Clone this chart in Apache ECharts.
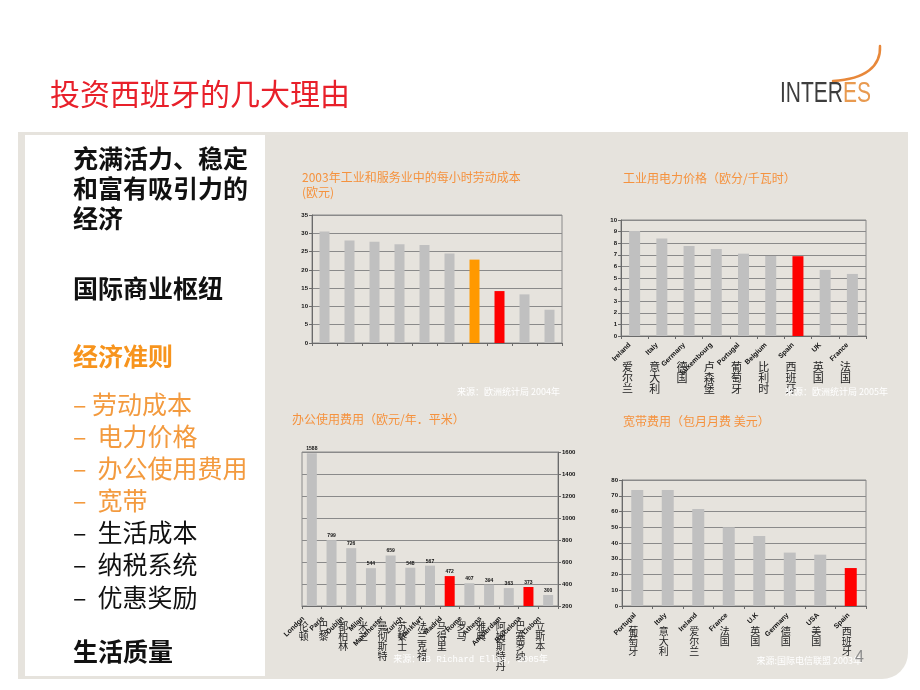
<!DOCTYPE html>
<html>
<head>
<meta charset="utf-8">
<title>投资西班牙的几大理由</title>
<script src="https://cdn.jsdelivr.net/npm/echarts@6/dist/echarts.min.js"></script>
<style>
  html, body { margin: 0; padding: 0; background: #fff; }
  #chart { width: 920px; height: 690px; }
</style>
</head>
<body>
<div id="chart"></div>
<script>
// 2003 labour cost per hour (EUR) - no category names shown in the slide
const laborCats = ['1', '2', '3', '4', '5', '6', '7', '8', '9', '10']
const laborCost = [30.5, 28.0, 27.7, 27.0, 26.8, 24.5, 22.8, 14.2, 13.3, 9.1]

// industrial electricity price (euro cent / kWh)
const elecEn = ['Ireland', 'Italy', 'Germany', 'Luxembourg', 'Portugal', 'Belgium', 'Spain', 'UK', 'France']
const elecZh = ['爱尔兰', '意大利', '德国', '卢森堡', '葡萄牙', '比利时', '西班牙', '英国', '法国']
const elecPrice = [9.05, 8.4, 7.75, 7.5, 7.1, 6.9, 6.88, 5.7, 5.35]

// office rent (EUR / year / m2)
const officeEn = ['London', 'Paris', 'Dublin', 'Milan', 'Manchester', 'Zurich', 'Frankfurt', 'Madrid', 'Rome', 'Athens', 'Amsterdam', 'Barcelona', 'Lisbon']
const officeZh = ['伦顿', '巴黎', '都柏林', '米兰', '曼彻斯特', '苏黎士', '法兰克福', '马得里', '罗马', '雅典', '阿姆斯特丹', '巴塞罗纳', '立斯本']
const officeRent = [1588, 799, 726, 544, 659, 548, 567, 472, 407, 394, 363, 373, 300]

// broadband monthly fee (USD)
const bbEn = ['Portugal', 'Italy', 'Ireland', 'France', 'U.K', 'Germany', 'USA', 'Spain']
const bbZh = ['葡萄牙', '意大利', '爱尔兰', '法国', '英国', '德国', '美国', '西班牙']
const bbFee = [73.6, 73.6, 61.6, 50.0, 44.4, 33.9, 32.6, 24.1]

// highlighted bars
const laborOrange = [6]
const laborRed = [7]
const elecRed = [6]
const officeRed = [7, 11]
const bbRed = [7]

const GREY = '#c0c0c0'
const RED = '#ff0000'
const ORANGE = '#ff9900'
const LINE = '#8a8a8a'
const TITLE = '#f5923e'
const CJK = '"Noto Sans CJK SC", sans-serif'
const LATIN = '"Liberation Sans", Arial, sans-serif'

function paint(values, red, orange) {
  return values.map((v, i) => {
    let c = GREY
    if (red.indexOf(i) >= 0) c = RED
    if (orange && orange.indexOf(i) >= 0) c = ORANGE
    return { value: v, itemStyle: { color: c } }
  })
}

function grid(left, top, width, height) {
  return { left, top, width, height, show: true, borderColor: LINE, borderWidth: 1, backgroundColor: 'transparent', outerBoundsMode: 'none' }
}

function valueAxis(gridIndex, min, max, interval, position) {
  return {
    type: 'value', gridIndex, min, max, interval, position: position || 'left',
    axisLine: { show: true, lineStyle: { color: '#6a6a6a' } },
    axisTick: { show: true, length: 3, lineStyle: { color: '#6a6a6a' } },
    splitLine: { show: true, lineStyle: { color: LINE, width: 1 } },
    axisLabel: { fontSize: 6, fontWeight: 'bold', color: '#111', margin: 4, fontFamily: LATIN, formatter: v => String(v) }
  }
}

function enAxis(gridIndex, data, showLabel, margin, pad) {
  return {
    type: 'category', gridIndex, data, position: 'bottom',
    axisLine: { show: true, lineStyle: { color: '#6a6a6a' } },
    axisTick: { show: true, length: 3, lineStyle: { color: '#6a6a6a' } },
    splitLine: { show: false },
    axisLabel: {
      show: showLabel, interval: 0, rotate: 45, margin: margin || 4,
      padding: [0, pad || 0, 0, 0],
      fontSize: 7, fontWeight: 'bold', color: '#111', fontFamily: LATIN
    }
  }
}

function zhAxis(gridIndex, data, margin, pad, fontSize, lineHeight) {
  return {
    type: 'category', gridIndex, data, position: 'bottom',
    axisLine: { show: false }, axisTick: { show: false }, splitLine: { show: false },
    axisLabel: {
      interval: 0, margin, fontSize, lineHeight, color: '#222', fontFamily: CJK,
      padding: [0, pad, 0, 0],
      formatter: v => v.split('').join('\n')
    }
  }
}

function chartTitle(text, left, top) {
  return {
    text, left, top, padding: 0,
    textStyle: { color: TITLE, fontSize: 12, fontWeight: 'normal', fontFamily: CJK, lineHeight: 15 }
  }
}

function txt(text, x, y, size, color, weight, family, align) {
  return {
    type: 'text', x, y, z: 100,
    style: {
      text, fill: color, font: (weight || 'normal') + ' ' + size + 'px ' + (family || CJK),
      align: align || 'left', verticalAlign: 'middle',
      textAlign: align || 'left', textVerticalAlign: 'middle'
    }
  }
}

const leftLines = [
  ['充满活力、稳定', 158, '#111', 'bold'],
  ['和富有吸引力的', 188, '#111', 'bold'],
  ['经济', 218, '#111', 'bold'],
  ['国际商业枢纽', 288, '#111', 'bold'],
  ['经济准则', 356, '#f7941d', 'bold'],
  ['– 劳动成本', 404, '#f39a3e', 'normal'],
  ['–  电力价格', 436, '#f39a3e', 'normal'],
  ['–  办公使用费用', 468, '#f39a3e', 'normal'],
  ['–  宽带', 500, '#f39a3e', 'normal'],
  ['–  生活成本', 532, '#111', 'normal'],
  ['–  纳税系统', 564, '#111', 'normal'],
  ['–  优惠奖励', 597, '#111', 'normal'],
  ['生活质量', 651, '#111', 'bold']
]

const chart = echarts.init(document.getElementById('chart'), null, { renderer: 'canvas' })

chart.setOption({
  backgroundColor: '#ffffff',
  animation: false,
  title: [
    chartTitle('2003年工业和服务业中的每小时劳动成本\n(欧元)', 302, 170),
    chartTitle('工业用电力价格（欧分/千瓦时）', 623, 171),
    chartTitle('办公使用费用（欧元/年．平米）', 292, 412),
    chartTitle('宽带费用（包月月费 美元）', 623, 414)
  ],
  grid: [
    grid(312, 215, 250, 128),
    grid(621, 220, 245, 116),
    grid(302, 452, 256, 154),
    grid(622, 480, 244, 126)
  ],
  xAxis: [
    enAxis(0, laborCats, false),
    enAxis(1, elecEn, true, 3, 7),
    zhAxis(1, elecZh, 25, 14, 11, 11),
    enAxis(2, officeEn, true, 3, 12),
    zhAxis(2, officeZh, 15, 16, 10, 10),
    enAxis(3, bbEn, true, 6, 3),
    zhAxis(3, bbZh, 20, 8, 10, 10)
  ],
  yAxis: [
    valueAxis(0, 0, 35, 5),
    valueAxis(1, 0, 10, 1),
    valueAxis(2, 200, 1600, 200, 'right'),
    valueAxis(3, 0, 80, 10)
  ],
  series: [
    { type: 'bar', xAxisIndex: 0, yAxisIndex: 0, barWidth: 10, data: paint(laborCost, laborRed, laborOrange) },
    { type: 'bar', xAxisIndex: 1, yAxisIndex: 1, barWidth: 11, data: paint(elecPrice, elecRed) },
    {
      type: 'bar', xAxisIndex: 3, yAxisIndex: 2, barWidth: 10, data: paint(officeRent, officeRed),
      label: { show: true, position: 'top', distance: 2, fontSize: 5, fontWeight: 'bold', color: '#111', fontFamily: LATIN }
    },
    { type: 'bar', xAxisIndex: 5, yAxisIndex: 3, barWidth: 12, data: paint(bbFee, bbRed) }
  ],
  graphic: [
    { type: 'rect', z: -10, shape: { x: 18, y: 132, width: 890, height: 547, r: [0, 0, 26, 0] }, style: { fill: '#e6e3dd' } },
    { type: 'rect', z: -9, shape: { x: 25, y: 135, width: 240, height: 541 }, style: { fill: '#ffffff' } },
    txt('投资西班牙的几大理由', 50, 94, 30, '#e8202a', 'normal'),
    {
      type: 'bezierCurve', z: 100,
      shape: { x1: 880, y1: 46, cpx1: 881, cpy1: 66, cpx2: 866, cpy2: 79, x2: 833, y2: 81 },
      style: { stroke: '#e8883a', lineWidth: 2.5, fill: null, lineCap: 'round' }
    },
    {
      type: 'group', x: 780, y: 94, scaleX: 0.7, z: 100,
      children: [
        txt('INTER', 0, 0, 30, '#3d3d3d', 'normal', '"Liberation Sans", sans-serif'),
        txt('ES', 90, 0, 30, '#e89a50', 'normal', '"Liberation Sans", sans-serif')
      ]
    },
    ...leftLines.map(l => txt(l[0], 73, l[1], 25, l[2], l[3])),
    txt('来源：欧洲统计局 2004年', 560, 392, 9, '#ffffff', 'normal', CJK, 'right'),
    txt('来源：欧洲统计局 2005年', 888, 392, 9, '#ffffff', 'normal', CJK, 'right'),
    txt('来源：CB Richard Ellis, 2005年', 548, 660, 9, '#ffffff', 'normal', '"Liberation Mono", "Noto Sans CJK SC", monospace', 'right'),
    txt('来源:国际电信联盟 2003年', 862, 661, 9, '#ffffff', 'normal', CJK, 'right'),
    txt('4', 855, 658, 16, '#8c8c8c', 'normal', LATIN)
  ]
})
</script>
</body>
</html>
